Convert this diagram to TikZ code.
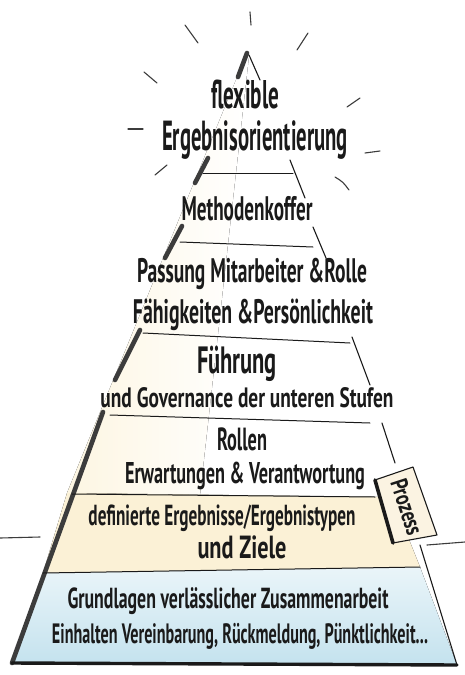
\documentclass[tikz,border=0pt]{standalone}
\usepackage{fontspec}
\setmainfont{PT Sans}
\usepackage{graphicx}
\definecolor{ink}{HTML}{1A1A1A}
\definecolor{edgegray}{HTML}{3C3C3C}
\definecolor{yel}{HTML}{FBF1D6}
\definecolor{yelpale}{HTML}{FDF6E2}
\definecolor{bluetop}{HTML}{EAF5F9}
\definecolor{bluebot}{HTML}{C4E2EE}
\definecolor{cream}{HTML}{FBF3E2}
\newcommand{\hw}[3]{{\fontsize{#1}{#1}\selectfont\bfseries\resizebox{#2pt}{\height}{#3}}}
\tikzset{
  thinedge/.style={draw=ink, line width=1.1pt, line cap=round},
  thickedge/.style={draw=edgegray, line width=4.6pt, line cap=round},
  divider/.style={draw=ink, line width=1.0pt, line cap=round},
  ray/.style={draw=ink!85, line width=1.1pt, line cap=round},
  lbl/.style={anchor=base, inner sep=0pt, text=ink},
}
\begin{document}
\begin{tikzpicture}[x=1pt,y=-1pt]
\useasboundingbox[fill=white] (0,0) rectangle (465,675);
% corner coordinates
\coordinate (A) at (247,53);
\coordinate (BL) at (12,663);
\coordinate (BR) at (457,665);
% washes
\fill[left color=yelpale, right color=white] (247,53) -- (67,493) -- (200,495) -- (249,56) -- cycle;
\fill[left color=yel, middle color=white, right color=yel] (67,493) -- (43,573) -- (420,567) -- (392,497) -- cycle;
\fill[top color=bluetop, bottom color=bluebot] (43,573) -- (12,663) -- (457,665) -- (420,567) -- cycle;
% left edge (thick segments)
\draw[thickedge] (A) -- (238,77);
\draw[thickedge] (208,158) -- (195,183);
\draw[thickedge] (182,226) -- (165,258);
\draw[thickedge] (140,330) -- (115,380);
\draw[thickedge] (103,412) -- (BL);
% right edge (thin segments)
\draw[thinedge] (249,55) -- (260,80);
\draw[thinedge] (290,160) -- (305,198);
\draw[thinedge] (313,227) -- (326,258);
\draw[thinedge] (352,337) -- (370,385);
\draw[thinedge] (382,423) -- (395,463);
\draw[thinedge] (420,545) -- (BR);
% bottom edge
\draw[draw=ink, line width=3.4pt, line cap=round] (BL) -- (BR);
% dividers
\draw[divider] (203,173) -- (293,173);
\draw[divider] (180,242) -- (313,247);
\draw[divider] (143,333) -- (350,343);
\draw[divider] (110,415) -- (370,423);
\draw[divider] (72,494) -- (375,497);
\draw[divider] (43,573) -- (420,567);
% rays
\draw[ray] (250,12) -- (251,25);
\draw[ray] (185,25) -- (198,43);
\draw[ray] (308,33) -- (297,50);
\draw[ray] (144,72) -- (157,83);
\draw[ray] (360,98) -- (347,107);
\draw[ray] (128,129) -- (143,129);
\draw[ray] (365,153) -- (380,151);
\draw[ray] (167,165) -- (155,175);
\draw[ray] (335,177) .. controls (343,182) .. (349,190);
\draw[ray] (0,538) -- (40,537);
\draw[ray] (427,545) -- (465,542);
% Prozess box
\filldraw[fill=cream, draw=ink, line width=1.1pt, line join=round] (375,480) -- (413,467) -- (437,535) -- (393,543) -- cycle;
\draw[draw=ink, line width=3.6pt, line cap=round] (375,480) -- (393,543);
\node[lbl, anchor=center, rotate=-72] (proz) at (407,507) {\hw{24}{58}{Prozess}};
% texts
\node[lbl] (t1) at (245,108) {\hw{40}{68}{flexible}};
\node[lbl] (t2) at (255,150) {\hw{42}{186}{Ergebnisorientierung}};
\node[lbl] (t3) at (247,220) {\hw{34}{131}{Methodenkoffer}};
\node[lbl] (t4) at (252,282) {\hw{34}{230}{Passung Mitarbeiter \&Rolle}};
\node[lbl] (t5) at (253,323) {\hw{34}{240}{Fähigkeiten \&Persönlichkeit}};
\node[lbl] (t6) at (237,373) {\hw{38}{80}{Führung}};
\node[lbl] (t7) at (247,407) {\hw{28}{293}{und Governance der unteren Stufen}};
\node[lbl] (t8) at (242,450) {\hw{32}{50}{Rollen}};
\node[lbl] (t9) at (245,483) {\hw{30}{240}{Erwartungen \& Verantwortung}};
\node[lbl] (t10) at (222,525) {\hw{29}{267}{definierte Ergebnisse/Ergebnistypen}};
\node[lbl] (t11) at (242,558) {\hw{32}{89}{und Ziele}};
\node[lbl] (t12) at (228,608) {\hw{29}{321}{Grundlagen verlässlicher Zusammenarbeit}};
\node[lbl] (t13) at (240,643) {\hw{28}{376}{Einhalten Vereinbarung, Rückmeldung, Pünktlichkeit...}};
\end{tikzpicture}
\end{document}
